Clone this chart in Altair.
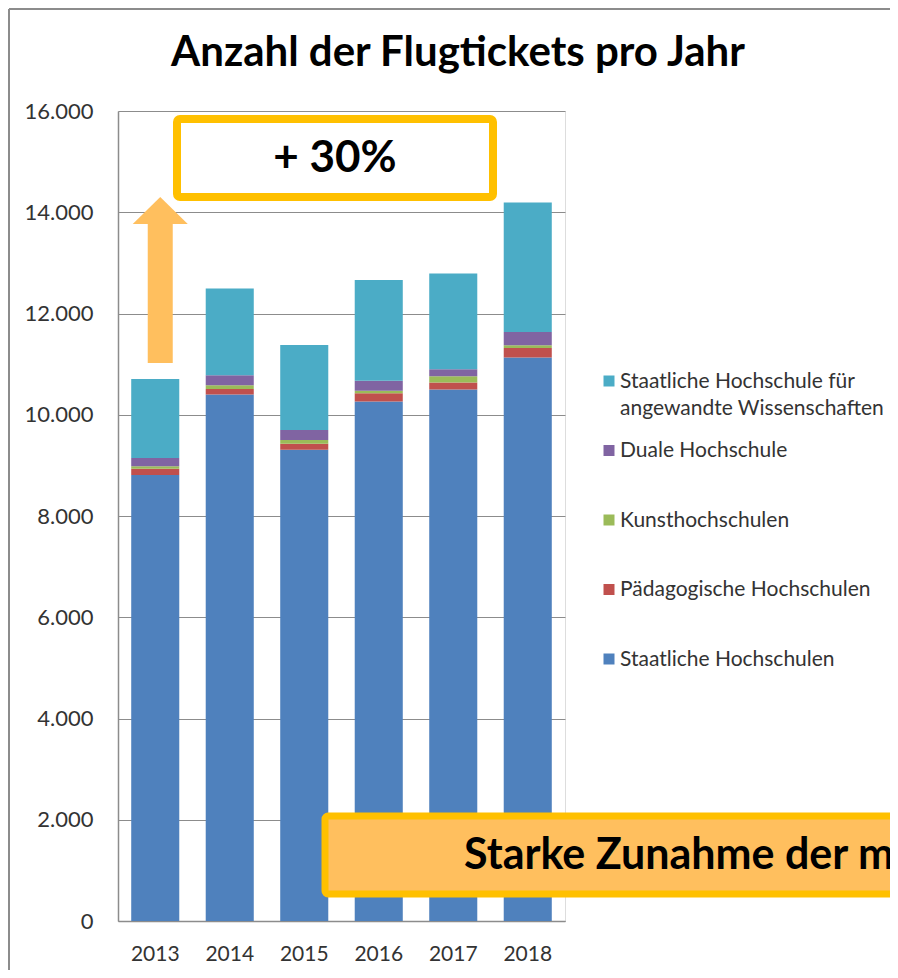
import altair as alt
import pandas as pd

# ---------------- data ----------------
years = ["2013", "2014", "2015", "2016", "2017", "2018"]
series = [
    "Staatliche Hochschulen",
    "Pädagogische Hochschulen",
    "Kunsthochschulen",
    "Duale Hochschule",
    "Staatliche Hochschule für angewandte Wissenschaften",
]
colors = ["#4F81BD", "#C0504D", "#9BBB59", "#8064A2", "#4BACC6"]

staatliche = [8810, 10400, 9310, 10260, 10500, 11130]
paedagogische = [125, 110, 118, 165, 138, 190]
kunst = [50, 73, 73, 51, 124, 53]
duale = [160, 198, 198, 197, 138, 263]
haw = [1560, 1715, 1677, 1987, 1892, 2558]

y_ticks = [0, 2000, 4000, 6000, 8000, 10000, 12000, 14000, 16000]

legend_labels = [
    "Staatliche Hochschule für\nangewandte Wissenschaften",
    "Duale Hochschule",
    "Kunsthochschulen",
    "Pädagogische Hochschulen",
    "Staatliche Hochschulen",
]

title_text = ["Anzahl der Flugtickets pro Jahr"]
increase_label = ["+ 30%"]
banner_label = ["Starke Zunahme der m"]

# arrow annotation (data units, on the 2013 column)
arrow_year = ["2013"]
arrow_base = [11020]
arrow_head_base = [13780]
arrow_head_mid = [14033]

# ---------------- build tables ----------------
values = [staatliche, paedagogische, kunst, duale, haw]
rows = []
for si, (name, vals) in enumerate(zip(series, values)):
    for y, v in zip(years, vals):
        rows.append({"year": y, "series": name, "value": v, "order": si})
df = pd.DataFrame(rows)

legend_df = pd.DataFrame({
    "series": list(reversed(series)),
    "label": legend_labels,
})

FONT = "Lato"
TXT = "#333333"
GRID = "#8C8C8C"
ORANGE_FILL = "#FFBF5E"
ORANGE_LINE = "#FFC000"

color_scale = alt.Scale(domain=series, range=colors)
x_scale = alt.Scale(domain=years, paddingInner=0.355, paddingOuter=0.1774)
y_scale = alt.Scale(domain=[0, 16000], nice=False, zero=True)

bars = alt.Chart(df).mark_bar().encode(
    x=alt.X("year:N", scale=x_scale, title=None,
            axis=alt.Axis(labelAngle=0, ticks=False, tickSize=0, labelPadding=22,
                          domainColor=GRID, domainWidth=1.5, grid=False,
                          labelFont=FONT, labelFontSize=21, labelColor=TXT)),
    y=alt.Y("value:Q", stack="zero", scale=y_scale, title=None,
            axis=alt.Axis(values=y_ticks, ticks=False, tickSize=0, labelPadding=25,
                          labelExpr="replace(format(datum.value, ','), ',', '.')",
                          grid=True, gridColor=GRID, gridWidth=1,
                          domainColor=GRID, domainWidth=1.5,
                          labelFont=FONT, labelFontSize=22, labelColor=TXT)),
    color=alt.Color("series:N", scale=color_scale, legend=None),
    order=alt.Order("order:Q", sort="ascending"),
)

arrow_df = pd.DataFrame({
    "year": arrow_year, "base": arrow_base,
    "headbase": arrow_head_base, "headmid": arrow_head_mid,
})

arrow_shaft = alt.Chart(arrow_df).mark_bar(size=25, xOffset=5, color=ORANGE_FILL).encode(
    x=alt.X("year:N", scale=x_scale),
    y=alt.Y("base:Q", scale=y_scale),
    y2="headbase:Q",
)

arrow_head = alt.Chart(arrow_df).mark_point(
    shape="M-1,0.49L1,0.49L0,-0.49Z", size=3025, filled=True, opacity=1,
    color=ORANGE_FILL, strokeWidth=0, xOffset=5,
).encode(
    x=alt.X("year:N", scale=x_scale),
    y=alt.Y("headmid:Q", scale=y_scale),
)

title_df = pd.DataFrame({"label": title_text})
title_mark = alt.Chart(title_df).mark_text(
    font=FONT, fontSize=42, fontWeight="bold", color="black",
    baseline="alphabetic", align="center",
).encode(text="label:N", x=alt.value(340), y=alt.value(-45))

inc_df = pd.DataFrame({"label": increase_label})
inc_box = alt.Chart(inc_df).mark_rect(
    fill="white", stroke=ORANGE_LINE, strokeWidth=8, cornerRadius=3
).encode(x=alt.value(59), x2=alt.value(375), y=alt.value(8), y2=alt.value(86))
inc_text = alt.Chart(inc_df).mark_text(
    font=FONT, fontSize=44, fontWeight="bold", color="black", baseline="middle"
).encode(text="label:N", x=alt.value(217), y=alt.value(48))

ban_df = pd.DataFrame({"label": banner_label})
ban_box = alt.Chart(ban_df).mark_rect(
    fill=ORANGE_FILL, stroke=ORANGE_LINE, strokeWidth=7, cornerRadius=3
).encode(x=alt.value(207), x2=alt.value(900), y=alt.value(705), y2=alt.value(783))
ban_text = alt.Chart(ban_df).mark_text(
    font=FONT, fontSize=43, fontWeight="bold", color="black", baseline="middle", align="left"
).encode(text="label:N", x=alt.value(346), y=alt.value(745))

# chart-area frame (slide border)
frame_left = alt.Chart(ban_df).mark_rule(color="#8C8C8C", strokeWidth=2).encode(
    x=alt.value(-109), y=alt.value(-102), y2=alt.value(900))
frame_top = alt.Chart(ban_df).mark_rule(color="#8C8C8C", strokeWidth=2).encode(
    x=alt.value(-109), x2=alt.value(800), y=alt.value(-102))

main = alt.layer(bars, arrow_shaft, arrow_head, title_mark, inc_box, inc_text,
                 ban_box, ban_text, frame_left, frame_top)

leg_scale = alt.Scale(domain=list(reversed(series)), range=[270, 548], padding=0)
leg_pts = alt.Chart(legend_df).mark_point(
    shape="square", filled=True, size=121, opacity=1, strokeWidth=0
).encode(
    x=alt.value(491),
    y=alt.Y("series:N", scale=leg_scale, axis=None),
    color=alt.Color("series:N", scale=color_scale, legend=None),
)
leg_txt = alt.Chart(legend_df).mark_text(
    font=FONT, fontSize=21, color=TXT, align="left", baseline="line-top",
    lineHeight=27, lineBreak="\n", dy=-13.5,
).encode(
    x=alt.value(502),
    y=alt.Y("series:N", scale=leg_scale, axis=None),
    text="label:N",
)
legend = alt.layer(leg_pts, leg_txt)

chart = alt.layer(main, legend).resolve_scale(y="independent").properties(
    width=447,
    height=810,
    autosize=alt.AutoSizeParams(type="none"),
    padding={"left": 110, "top": 103, "right": 325, "bottom": 49},
).configure_view(stroke=None).configure(background="white")

chart.save("out.html", embed_options={"renderer": "svg", "actions": False})
